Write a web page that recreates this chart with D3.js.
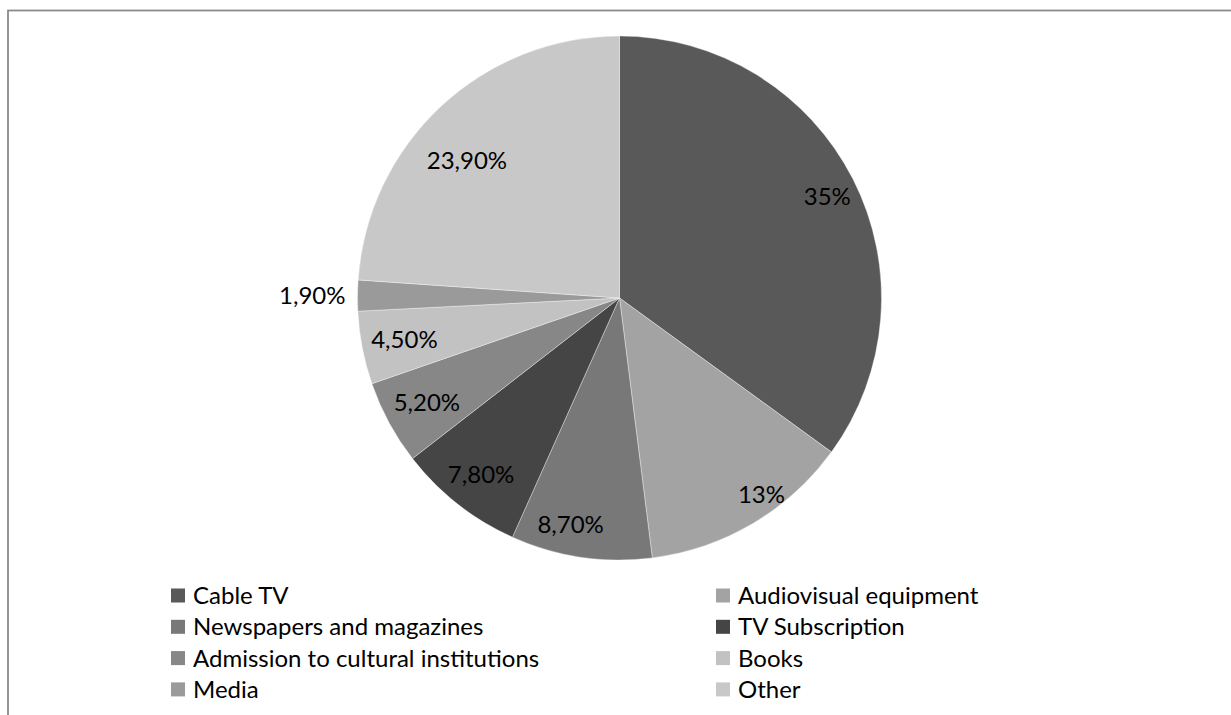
<!DOCTYPE html>
<html>
<head>
<meta charset="utf-8">
<script src="https://cdn.jsdelivr.net/npm/d3@7"></script>
<style>
  html, body { margin: 0; padding: 0; background: #fff; }
  svg { display: block; }
  text { font-family: Lato, "Open Sans", sans-serif; fill: #000; }
</style>
</head>
<body>
<svg id="chart" width="1231" height="715"></svg>
<script>
// Household cultural spending shares
const categories = [
  "Cable TV", "Audiovisual equipment", "Newspapers and magazines", "TV Subscription",
  "Admission to cultural institutions", "Books", "Media", "Other"
];
const shares = [35, 13, 8.7, 7.8, 5.2, 4.5, 1.9, 23.9];
const labels = ["35%", "13%", "8,70%", "7,80%", "5,20%", "4,50%", "1,90%", "23,90%"];
const fills = ["#595959", "#a3a3a3", "#787878", "#454545", "#878787", "#c2c2c2", "#9a9a9a", "#c8c8c8"];

const svg = d3.select("#chart");
const W = 1231, H = 715;
const fontSize = 24;

// chart area frame (extends beyond the window on the right and bottom)
svg.append("rect")
  .attr("x", 8).attr("y", 10.5)
  .attr("width", W + 100).attr("height", H + 100)
  .attr("fill", "none")
  .attr("stroke", "#888")
  .attr("stroke-width", 1.75);

const cx = 619.5, cy = 298, R = 262;

const data = categories.map((c, i) => ({ name: c, value: shares[i], label: labels[i], fill: fills[i] }));

const pie = d3.pie().value(d => d.value).sort(null);
const arcs = pie(data);
const arc = d3.arc().innerRadius(0).outerRadius(R);

const g = svg.append("g").attr("transform", `translate(${cx},${cy})`);

g.selectAll("path.slice")
  .data(arcs)
  .join("path")
  .attr("class", "slice")
  .attr("d", arc)
  .attr("fill", d => d.data.fill)
  .attr("stroke", "#ffffff")
  .attr("stroke-opacity", 0.45)
  .attr("stroke-width", 0.8);

// data labels: "inside end" placement — the label box sits just inside the rim
// along the slice's mid-angle; slices too thin for text get the label outside.
const pad = 8;
const labelNudge = { "13%": [24, -3], "8,70%": [-14, -8], "23,90%": [-4, 22], "35%": [5, 2] };

const vals = g.selectAll("text.val")
  .data(arcs)
  .join("text")
  .attr("class", "val")
  .attr("font-size", fontSize)
  .attr("dy", "0.35em")
  .text(d => d.data.label);

vals.each(function (d) {
  const t = d3.select(this);
  const a = (d.startAngle + d.endAngle) / 2;
  const ux = Math.sin(a), uy = -Math.cos(a);
  if (d.data.value < 3) {
    const r = R + 12;
    t.attr("text-anchor", "end")
      .attr("x", ux * r).attr("y", uy * r);
    return;
  }
  const bb = this.getBBox();
  const hw = bb.width / 2, hh = fontSize * 0.5;
  const r = R - pad - (Math.abs(ux) * hw + Math.abs(uy) * hh);
  const n = labelNudge[d.data.label] || [0, 0];
  t.attr("text-anchor", "middle")
    .attr("x", ux * r + n[0]).attr("y", uy * r + n[1]);
});

// legend: two columns, four rows
const legend = svg.append("g");
const colX = [171, 716];
const rowY0 = 595.5, rowStep = 31.3, sw = 14;

const items = legend.selectAll("g.item")
  .data(data)
  .join("g")
  .attr("class", "item")
  .attr("transform", (d, i) => `translate(${colX[i % 2]},${rowY0 + Math.floor(i / 2) * rowStep})`);

items.append("rect")
  .attr("x", 0).attr("y", -sw / 2)
  .attr("width", sw).attr("height", sw)
  .attr("fill", d => d.fill);

items.append("text")
  .attr("x", 22)
  .attr("dy", "0.36em")
  .attr("font-size", fontSize)
  .text(d => d.name);
</script>
</body>
</html>
